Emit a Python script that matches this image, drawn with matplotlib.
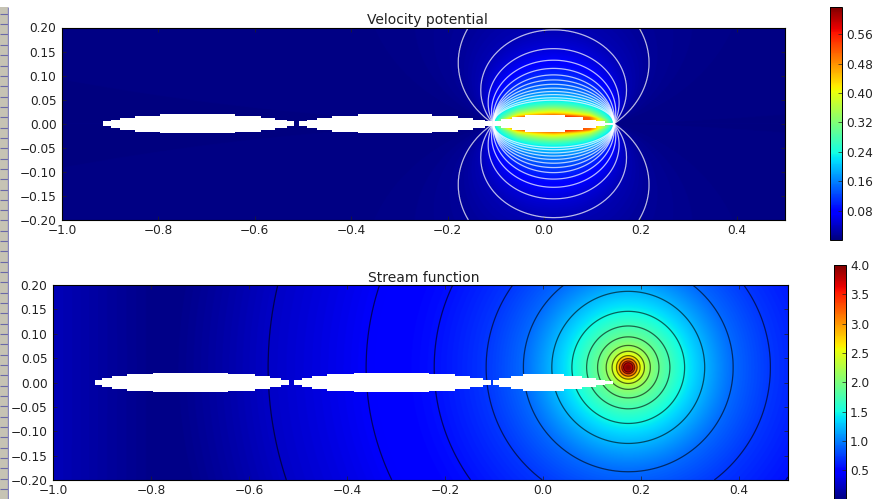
import numpy as np
import matplotlib
matplotlib.use("Agg")
import matplotlib.pyplot as plt
from matplotlib.cm import ScalarMappable
from matplotlib.colors import Normalize

W, H = 886, 499

# foil outlines: station x and half thickness (stairs)
foil1_x = [-0.915, -0.899, -0.879, -0.848, -0.796, -0.642, -0.588, -0.558, -0.534, -0.519]
foil1_t = [0.0048, 0.0083, 0.0124, 0.0166, 0.0196, 0.0166, 0.0124, 0.0083, 0.0048, 0.0048]
foil2_x = [-0.508, -0.491, -0.471, -0.440, -0.386, -0.232, -0.179, -0.148, -0.123, -0.107]
foil2_t = [0.0048, 0.0083, 0.0124, 0.0166, 0.0196, 0.0166, 0.0124, 0.0083, 0.0048, 0.0048]
foil3_x = [-0.103, -0.090, -0.066, -0.040, 0.043, 0.080, 0.108, 0.127, 0.143]
foil3_t = [0.0048, 0.0090, 0.0138, 0.0180, 0.0138, 0.0083, 0.0055, 0.0025, 0.0025]

# velocity potential: height of each arc above the foil at mid chord, and its value
phi_height = [0.016, 0.019, 0.023, 0.030, 0.040, 0.045, 0.049, 0.054, 0.0605, 0.067, 0.074, 0.082,
              0.091, 0.1015, 0.115, 0.132, 0.156, 0.195, 0.29, 0.5, 1.0, 50.0]
phi_value = [0.56, 0.48, 0.42, 0.35, 0.27, 0.24, 0.22, 0.20, 0.18, 0.165, 0.15, 0.135,
             0.12, 0.105, 0.09, 0.07, 0.05, 0.03, 0.014, 0.006, 0.003, 0.002]
phi_lines = [0.014, 0.03, 0.05, 0.07, 0.09, 0.105, 0.12, 0.135, 0.15, 0.165, 0.18, 0.20, 0.22]
phi_ticks = [0.08, 0.16, 0.24, 0.32, 0.40, 0.48, 0.56]
phi_chord = (-0.105, 0.145)
# the bright core fades towards the ends of the chord
core_pos = [0.0, 0.6, 0.85, 1.0]
core_keep = [1.0, 0.85, 0.35, 0.0]

# stream function: ring radius around the vortex and its value
psi_center = (0.174, 0.031)
psi_radius = [0.0005, 0.005, 0.007, 0.0095, 0.013, 0.018, 0.024, 0.033, 0.045, 0.0626, 0.085,
              0.115, 0.156, 0.214, 0.29, 0.396, 0.535, 0.735, 0.925, 1.6]
psi_value = [4.0, 3.95, 3.85, 3.6, 3.35, 3.0, 2.6, 2.35, 2.1, 1.9, 1.72,
             1.48, 1.22, 0.92, 0.72, 0.56, 0.44, 0.25, 0.04, 0.03]
psi_lines = [0.25, 0.44, 0.56, 0.72, 0.92, 1.22, 1.48, 1.72, 1.9, 2.1, 2.35, 2.6, 3.0, 3.35, 3.6]
psi_ticks = [0.5, 1.0, 1.5, 2.0, 2.5, 3.0, 3.5, 4.0]
# the field brightens again towards the left edge
left_x = [-1.0, -0.9, -0.8]
left_rise = [0.17, 0.08, 0.0]

x_ticks = [-1.0, -0.8, -0.6, -0.4, -0.2, 0.0, 0.2, 0.4]
y_ticks = [-0.20, -0.15, -0.10, -0.05, 0.00, 0.05, 0.10, 0.15, 0.20]

# ruled strip of the page at the left edge of the screenshot
strip_lines = [14, 24, 34, 45, 55, 66, 76, 86, 97, 107, 117, 128, 138, 148, 159, 169, 179, 190, 200,
               210, 220, 231, 241, 251, 262, 272, 282, 293, 303, 313, 324, 334, 344, 355, 365, 375,
               386, 396, 406, 417, 427, 437, 448, 458, 468, 479, 489]

plt.rcParams['font.family'] = 'DejaVu Sans'
plt.rcParams['font.size'] = 8.7


def px_axes(fig, left, top, right, bottom):
    return fig.add_axes([left / W, 1 - bottom / H, (right - left) / W, (bottom - top) / H])


def grid():
    x = np.linspace(-1.0, 0.5, 1501)
    y = np.linspace(-0.2, 0.2, 401) + 0.0001
    return np.meshgrid(x, y)


def phi_field():
    X, Y = grid()
    mid = (phi_chord[0] + phi_chord[1]) / 2
    c = (phi_chord[1] - phi_chord[0]) / 2
    dx = X - mid
    yy = np.abs(Y) * 1.21
    # the outer arcs are circles through the two ends of the chord
    yc = (dx**2 + yy**2 - c**2) / (2 * yy)
    apex = (np.sqrt(c**2 + yc**2) + yc) / 1.21
    # the inner ones are fatter, closer to ellipses on the chord
    span = np.maximum(1 - (dx / c)**2, 1e-9)
    apex = np.minimum(apex, np.abs(Y) / np.sqrt(span))
    Z = np.interp(np.log(np.maximum(apex, 1e-6)), np.log(phi_height), phi_value)
    keep = np.interp(np.abs(dx) / c, core_pos, core_keep)
    top_line = phi_lines[-1]
    return np.where(Z > top_line, top_line + (Z - top_line) * keep, Z)


def psi_field():
    X, Y = grid()
    r = np.hypot(X - psi_center[0], Y - psi_center[1])
    Z = np.interp(np.log(np.maximum(r, 1e-5)), np.log(psi_radius), psi_value)
    return Z + np.interp(X, left_x, left_rise)


def draw_panel(ax, Z, lines, vmax, title, color, alpha):
    X, Y = grid()
    ax.imshow(Z, extent=[-1, 0.5, -0.2, 0.2], origin='lower', aspect='auto', cmap='jet',
              vmin=0, vmax=vmax, interpolation='bilinear')
    ax.contour(X, Y, Z, levels=lines, colors=color, linewidths=0.9, alpha=alpha)
    for fx, ft in [(foil1_x, foil1_t), (foil2_x, foil2_t), (foil3_x, foil3_t)]:
        ax.fill_between(fx, -np.array(ft), ft, step='post', color='white', lw=0, zorder=5)
    ax.set_xlim(-1, 0.5)
    ax.set_ylim(-0.2, 0.2)
    ax.set_xticks(x_ticks)
    ax.set_yticks(y_ticks)
    ax.set_yticklabels(['%.2f' % v if v >= 0 else '\u2212%.2f' % -v for v in y_ticks])
    ax.set_xticklabels(['%.1f' % v if v >= 0 else '\u2212%.1f' % -v for v in x_ticks])
    ax.tick_params(direction='in', top=True, right=True, length=3, width=0.5, pad=4, colors='#222222')
    ax.tick_params(axis='x', pad=3)
    ax.set_title(title, fontsize=10, pad=2.5, color='#222222', x=0.505)


def draw_bar(fig, cax, vmax, ticks, fmt):
    cb = fig.colorbar(ScalarMappable(Normalize(0, vmax), 'jet'), cax=cax)
    cb.set_ticks(ticks)
    cb.set_ticklabels([fmt % v for v in ticks])
    cax.tick_params(direction='in', length=3, width=0.5, pad=3, colors='#222222')
    cb.outline.set_linewidth(0.7)


fig = plt.figure(figsize=(W / 100, H / 100), dpi=100, facecolor='white')

strip = fig.add_axes([0, 0, 9 / W, 1])
strip.set_xlim(0, 9)
strip.set_ylim(H, 0)
strip.axis('off')
strip.fill_between([0, 8], 7, H, color='#c6c3b4', lw=0)
strip.hlines(strip_lines, 0, 9, color='#6a68a8', lw=0.8)
strip.vlines(8, 7, H, color='#8886bc', lw=1.0)

ax1 = px_axes(fig, 62, 27.5, 785, 220)
draw_panel(ax1, phi_field(), phi_lines, 0.634, 'Velocity potential', 'white', 0.72)
ax2 = px_axes(fig, 53, 285, 788, 480)
draw_panel(ax2, psi_field(), psi_lines, 4.0, 'Stream function', 'black', 0.6)

draw_bar(fig, px_axes(fig, 830, 7, 842, 240), 0.634, phi_ticks, '%.2f')
draw_bar(fig, px_axes(fig, 833.5, 265, 846, 499.5), 4.0, psi_ticks, '%.1f')

fig.savefig('out.png', dpi=100)
